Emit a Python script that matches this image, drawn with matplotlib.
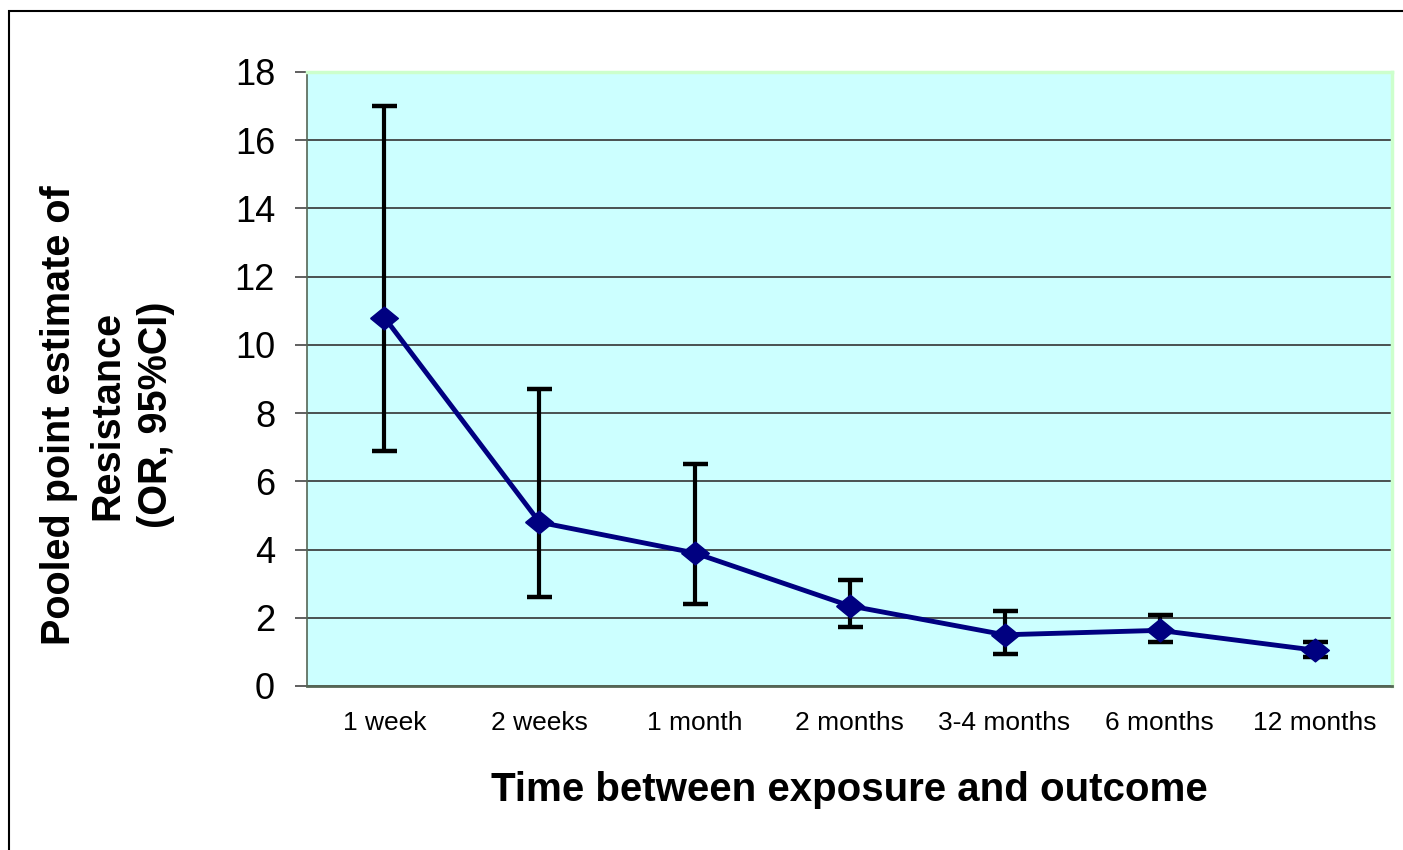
import matplotlib.pyplot as plt
from matplotlib.patches import Rectangle

plt.rcParams['font.family'] = ['Liberation Sans', 'DejaVu Sans']

# data
periods = ['1 week', '2 weeks', '1 month', '2 months', '3-4 months', '6 months', '12 months']
odds_ratio = [10.8, 4.8, 3.9, 2.35, 1.5, 1.63, 1.05]
ci_low = [6.9, 2.6, 2.4, 1.73, 0.95, 1.28, 0.85]
ci_high = [17.0, 8.7, 6.5, 3.1, 2.2, 2.08, 1.3]

x = list(range(len(periods)))
err_low = [v - lo for v, lo in zip(odds_ratio, ci_low)]
err_high = [hi - v for v, hi in zip(odds_ratio, ci_high)]

fig = plt.figure(figsize=(14.03, 8.5), dpi=100)
ax = fig.add_axes([0.2188, 0.193, 0.7734, 0.7223])
ax.set_facecolor('#CCFFFF')

# slightly flattened diamond, like the Excel marker
diamond = [(-1, 0), (0, 0.82), (1, 0), (0, -0.82), (-1, 0)]

# error bars (black, behind the line)
ax.errorbar(x, odds_ratio, yerr=[err_low, err_high], fmt='none', ecolor='black',
            elinewidth=3, capsize=9, capthick=3.2, zorder=2)
ax.plot(x, odds_ratio, color='#000080', linewidth=3.5, marker=diamond, markersize=20,
        markerfacecolor='#000080', markeredgecolor='#000080', zorder=3)

ax.set_xlim(-0.5, len(periods) - 0.5)
ax.set_ylim(0, 18)
ax.set_yticks(range(0, 19, 2))
ax.yaxis.grid(True, color='#333333', linewidth=1.2)
ax.set_axisbelow(True)

ax.set_xticks(x)
ax.set_xticklabels(periods, fontsize=19)
ax.tick_params(axis='x', length=0, pad=18)
ax.tick_params(axis='y', labelsize=26, length=9, width=1.2, color='#444444', pad=14)

for s in ['top', 'right']:
    ax.spines[s].set_color('#CCFFCC')
    ax.spines[s].set_linewidth(2.5)
ax.spines['left'].set_color('#556655')
ax.spines['left'].set_linewidth(1.2)
ax.spines['bottom'].set_color('#556655')
ax.spines['bottom'].set_linewidth(2)

ax.set_xlabel('Time between exposure and outcome', fontsize=29, fontweight='bold', labelpad=26)
ax.set_ylabel('Pooled point estimate of\nResistance\n(OR, 95%CI)', fontsize=28.5,
              fontweight='bold', linespacing=1.35)
ax.yaxis.set_label_coords(-0.122, 0.441)

# chart frame
fig.patches.append(Rectangle((9 / 1403, -0.1), 1.2, 1 - 11 / 850 + 0.1,
                             transform=fig.transFigure, fill=False,
                             edgecolor='black', linewidth=1.5))

fig.savefig('out.png', dpi=100)
